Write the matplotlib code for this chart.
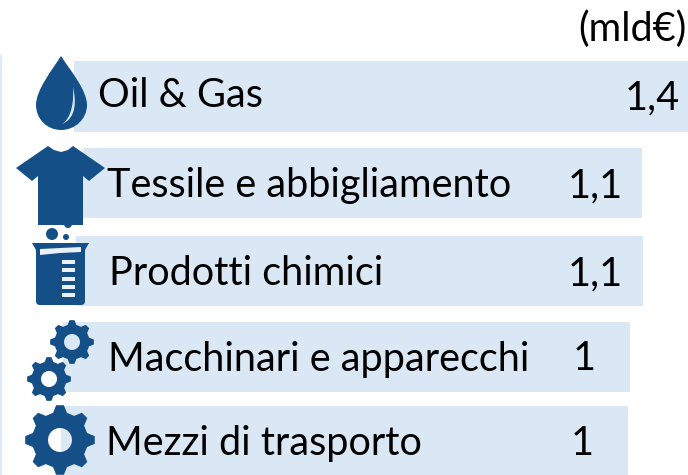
import numpy as np
import matplotlib
matplotlib.use("Agg")
import matplotlib.pyplot as plt
from matplotlib.path import Path
from matplotlib.patches import PathPatch, Circle, Polygon, Rectangle, FancyBboxPatch

plt.rcParams['font.family'] = ['Lato', 'DejaVu Sans']

# data
categories = ["Oil & Gas", "Tessile e abbigliamento", "Prodotti chimici",
              "Macchinari e apparecchi", "Mezzi di trasporto"]
value_labels = ["1,4", "1,1", "1,1", "1", "1"]
# bars are hand drawn in the original, read in image pixels
bar_left = [74, 83, 76, 63, 61]
bar_right = [688, 642, 643, 630, 628]
bar_top = [61, 148, 236, 322, 406]
bar_bottom = [132, 218, 306, 392, 475]

# text placement (baselines)
label_x = [98, 107, 109, 108, 106]
label_y = [107, 197, 285, 371, 455]
value_x = [652, 595, 595, 584, 582]
value_y = [109, 197, 285, 370, 455]

BAR_COLOR = "#DAE8F6"
ICON_COLOR = "#145087"
FONT_SIZE = 28.5


def gear_path(cx, cy, r_out, r_hole, teeth=8):
    # outline of a cog with a round hole in it
    r_in = r_out * 0.8
    pts = []
    step = 2 * np.pi / teeth
    for i in range(teeth):
        a = i * step - np.pi / 2
        for da, r in [(-0.32, r_in), (-0.14, r_out), (0.14, r_out), (0.32, r_in)]:
            pts.append((cx + r * np.cos(a + da * step), cy + r * np.sin(a + da * step)))
    pts.append(pts[0])
    codes = [Path.MOVETO] + [Path.LINETO] * (len(pts) - 2) + [Path.CLOSEPOLY]
    t = np.linspace(0, -2 * np.pi, 40)
    hole = [(cx + r_hole * np.cos(v), cy + r_hole * np.sin(v)) for v in t]
    hole_codes = [Path.MOVETO] + [Path.LINETO] * (len(hole) - 2) + [Path.CLOSEPOLY]
    return Path(pts + hole, codes + hole_codes)


fig = plt.figure(figsize=(6.88, 4.75), dpi=100)
ax = fig.add_axes([0, 0, 1, 1])
ax.set_xlim(0, 688)
ax.set_ylim(475, 0)
ax.axis("off")

# faint line on the left edge
ax.plot([0.5, 0.5], [55, 475], color="#DAE8F6", lw=1.2)

# bars
for l, r, t, b in zip(bar_left, bar_right, bar_top, bar_bottom):
    ax.barh((t + b) / 2, r - l, height=b - t, left=l, color=BAR_COLOR, zorder=1)

# drop icon
drop = Path([(61, 56), (52, 70), (36, 90), (36, 105), (36, 119), (47, 130), (61, 130),
             (75, 130), (87, 119), (87, 105), (87, 90), (70, 70), (61, 56), (61, 56)],
            [Path.MOVETO] + [Path.CURVE4] * 12 + [Path.CLOSEPOLY])
ax.add_patch(PathPatch(drop, fc=ICON_COLOR, ec="none", zorder=2))
shine = Path([(73, 87), (76, 100), (77, 118), (62, 124), (72, 118), (74, 100), (73, 87), (73, 87)],
             [Path.MOVETO] + [Path.CURVE4] * 6 + [Path.CLOSEPOLY])
ax.add_patch(PathPatch(shine, fc=BAR_COLOR, ec="none", zorder=3))

# shirt icon
shirt = [(48, 146), (54, 150), (61, 152), (68, 150), (73, 146), (105, 168), (89, 181), (83, 176),
         (83, 225), (38, 225), (38, 176), (32, 181), (16, 168)]
ax.add_patch(Polygon(shirt, closed=True, fc=ICON_COLOR, ec="none", zorder=2))

# bubbles over the beaker
ax.add_patch(Circle((68, 224), 4, fc=ICON_COLOR, ec="none", zorder=2))
ax.add_patch(Circle((52, 234), 6, fc=ICON_COLOR, ec="none", zorder=2))
ax.add_patch(Circle((66, 237), 3, fc=ICON_COLOR, ec="none", zorder=2))

# beaker icon
ax.add_patch(Polygon([(32, 243), (89, 243), (85, 250), (85, 300), (36, 300), (36, 250)],
                     closed=True, fc=ICON_COLOR, ec="none", zorder=2))
ax.add_patch(FancyBboxPatch((39, 285), 43, 17, boxstyle="round,pad=3,rounding_size=4",
                            fc=ICON_COLOR, ec="none", zorder=2))
ax.add_patch(Polygon([(40, 249), (81, 247), (81, 252), (60, 253), (40, 255)],
                     closed=True, fc="#EAF1F9", ec="none", zorder=3))
for tick_y in [260, 268, 277, 285, 293]:
    ax.add_patch(Rectangle((62, tick_y), 13, 4, fc="#EAF1F9", ec="none", zorder=3))

# gear icons
ax.add_patch(PathPatch(gear_path(72, 342, 22, 8), fc=ICON_COLOR, ec="none", zorder=2))
ax.add_patch(PathPatch(gear_path(49, 379, 22, 8), fc=ICON_COLOR, ec="none", zorder=2))
ax.add_patch(PathPatch(gear_path(60, 440, 35, 12), fc=ICON_COLOR, ec="none", zorder=2))

# text
for name, x, y in zip(categories, label_x, label_y):
    ax.text(x, y, name, fontsize=FONT_SIZE, ha="left", va="baseline", color="black", zorder=4)
for val, x, y in zip(value_labels, value_x, value_y):
    ax.text(x, y, val, fontsize=FONT_SIZE, ha="center", va="baseline", color="black", zorder=4)
ax.text(686, 41, "(mld€)", fontsize=FONT_SIZE, ha="right", va="baseline", color="black")

fig.savefig("out.png", dpi=100)
